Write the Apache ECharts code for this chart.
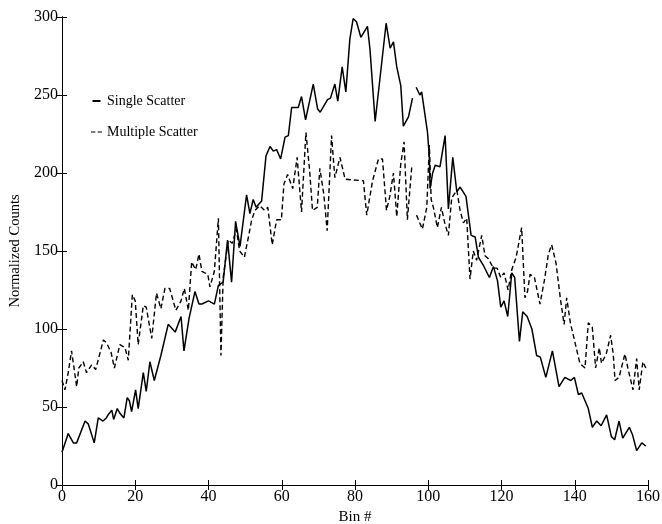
<!DOCTYPE html>
<html>
<head>
<meta charset="utf-8">
<script src="https://cdn.jsdelivr.net/npm/echarts@6/dist/echarts.min.js"></script>
<style>
  html, body { margin: 0; padding: 0; background: #fff; }
  #main { width: 662px; height: 524px; }
</style>
</head>
<body>
<div id="main"></div>
<script>
// single scatter (solid line), bin positions and counts
var singleBins = [0, 1.7, 3.1, 4, 6.3, 7.2, 8.8, 9.9, 11.2, 12.1, 12.6, 13.6, 14.1, 15.1, 15.8, 16.9, 17.8, 18.4, 19, 20.1,
    20.8, 22.2, 23, 24, 25.2, 27, 29, 29.8, 30.9, 32.5, 33.3, 34.7, 36.3, 37.4, 38.2, 40, 41.6, 42.7, 44, 45.2,
    46.3, 47.4, 48.6, 50.4, 51.3, 52.2, 53, 54.5, 55.7, 56.8, 57.7, 58.6, 59.7, 60.9, 61.8, 62.7, 64.5, 65.4, 66.5, 68.6,
    69.8, 70.5, 72.5, 73.3, 74.5, 75.3, 76.5, 77.5, 78.6, 79.5, 80.4, 81.6, 83.4, 84.1, 85.5, 88.5, 89.6, 90.5, 91.4, 92.5,
    93.2, 94.6, 95.7, 96.2, 96.7, 97.7, 98.2, 99.8, 100.3, 100.5, 101.2, 101.9, 103.2, 104.6, 105.5, 106.7, 107.8, 108.7, 110.3, 111.7,
    112.8, 113.7, 115, 116.7, 117.8, 118.9, 119.8, 120.7, 121.7, 122.8, 123.6, 124.9, 125.8, 127, 128.3, 129.6, 130.6, 132.1, 133.9, 135.7,
    137.3, 138.9, 139.9, 141, 141.9, 143.7, 144.8, 146, 147.2, 148.7, 150, 150.9, 152.1, 153.1, 154.9, 155.8, 156.9, 158.3, 159.4];
var singleCounts = [21, 33, 27, 27, 41, 39, 27, 43, 41, 43, 45, 48, 42, 49, 46, 43, 56, 54, 47, 61,
    49, 72, 60, 79, 67, 83, 103, 101, 98, 108, 86, 107, 124, 116, 116, 118, 116, 128, 130, 157,
    130, 169, 153, 186, 174, 183, 178, 182, 211, 217, 214, 215, 209, 223, 224, 242, 242, 249, 234, 257,
    241, 239, 247, 248, 257, 246, 268, 252, 286, 299, 297, 287, 294, 279, 233, 296, 280, 284, 268, 256,
    230, 236, 248, '-', 255, 250, 252, 226, 210, 190, 200, 205, 204, 224, 177, 210, 188, 191, 185, 160,
    159, 146, 141, 133, 140, 131, 114, 118, 108, 136, 133, 92, 111, 108, 100, 83, 82, 69, 86, 63,
    69, 67, 69, 58, 59, 49, 37, 41, 38, 45, 31, 29, 41, 30, 37, 32, 22, 27, 25];

// multiple scatter (dashed line)
var multiBins = [0, 0.8, 1.7, 2.6, 3.1, 4, 4.6, 5.8, 6.7, 8.1, 9.2, 11.3, 12.2, 13.4, 14.3, 15.8, 17.2, 18.1, 19.2, 20,
    20.8, 22.2, 23, 24.5, 25.8, 27, 28.1, 29.4, 31.1, 32.5, 33.4, 34.5, 35.4, 36.5, 37.4, 38.2, 39.8, 40.4, 41.6, 42.7,
    43.4, 44, 45.4, 46.5, 47.6, 48.5, 49.8, 50.9, 51.8, 52.7, 54, 55.3, 56.2, 57.4, 58.6, 59.9, 60.6, 61.6, 63, 64.2,
    65.4, 66.6, 67.6, 68.4, 69.7, 70.4, 71.5, 72.4, 73.6, 74.5, 75.9, 77.3, 82.3, 83.2, 84.8, 86.4, 87.5, 88.6, 89.5, 90.5,
    91.4, 92.5, 93.4, 94.3, 95.5, 96.2, 96.8, 98.4, 99.6, 100.3, 100.8, 101.4, 102.5, 103.6, 104.5, 105.5, 106.4, 107.8, 108.7, 109.6,
    110.5, 111.4, 112.3, 113.2, 114.6, 115.5, 116.4, 117.8, 118.8, 119.8, 120.7, 121.8, 122.8, 124, 125.5, 126.4, 127.1, 127.8, 129, 130.5,
    131.7, 132.8, 133.7, 134.9, 136.1, 137.1, 137.8, 138.8, 140.1, 141.4, 142.8, 143.7, 144.8, 145.7, 146.7, 147.3, 148.6, 149.8, 150.5, 151,
    152.1, 153.7, 154.5, 155.9, 156.9, 157.6, 158.6, 159.4];
var multiCounts = [67, 61, 72, 86, 78, 63, 75, 79, 72, 77, 74, 93, 91, 85, 75, 90, 88, 80, 122, 118,
    90, 115, 114, 94, 123, 113, 126, 126, 112, 118, 126, 112, 143, 138, 148, 137, 135, 127, 137, 171,
    83, 133, 157, 155, 164, 150, 146, 159, 170, 176, 179, 176, 178, 154, 170, 170, 193, 199, 190, 210,
    175, 226, 202, 176, 178, 203, 186, 163, 224, 197, 210, 196, 195, 173, 195, 209, 209, 176, 185, 200,
    172, 206, 220, 170, 204, '-', 173, 164, 178, 218, 183, 178, 165, 178, 168, 160, 184, 189, 176, 168,
    171, 132, 150, 144, 160, 147, 145, 139, 139, 133, 136, 125, 138, 146, 165, 120, 124, 135, 133, 116,
    131, 148, 154, 142, 119, 103, 120, 104, 91, 78, 75, 104, 101, 75, 88, 78, 84, 96, 84, 67,
    69, 84, 75, 61, 81, 61, 79, 75];

var xTicks = { min: 0, max: 160, interval: 20 };
var yTicks = { min: 0, max: 300, interval: 50 };

function pairs(xs, ys) {
    var out = [];
    for (var i = 0; i < xs.length; i++) {
        out.push([xs[i], ys[i]]);
    }
    return out;
}

var font = '"Liberation Serif", "DejaVu Serif", serif';
var axisLine = { show: true, lineStyle: { color: '#000', width: 1 } };
var tickIn = { show: true, inside: true, length: 5, lineStyle: { color: '#000' } };

var chart = echarts.init(document.getElementById('main'));
var option = {
    backgroundColor: '#fff',
    animation: false,
    grid: { left: 62, right: 14, top: 17, bottom: 39, containLabel: false, outerBoundsMode: 'none' },
    legend: {
        orient: 'vertical',
        left: 86,
        top: 89,
        itemGap: 17,
        itemWidth: 11,
        itemHeight: 2,
        textStyle: { fontFamily: font, fontSize: 14, color: '#000' },
        data: [
            { name: 'Single Scatter', icon: 'path://M7,0H11V1H7Z' },
            { name: 'Multiple Scatter', icon: 'path://M0,0H4V1H0Z M6,0H10V1H6Z' }
        ]
    },
    xAxis: [
        {
            type: 'value', min: xTicks.min, max: xTicks.max, interval: xTicks.interval,
            name: 'Bin #', nameLocation: 'middle', nameGap: 21,
            nameTextStyle: { fontFamily: font, fontSize: 15, color: '#000' },
            axisLine: axisLine, axisTick: tickIn,
            axisLabel: { fontFamily: font, fontSize: 16, color: '#000', margin: 4 },
            splitLine: { show: false }
        },
        {
            type: 'value', position: 'top', min: xTicks.min, max: xTicks.max, interval: xTicks.interval,
            axisLine: axisLine, axisTick: tickIn, axisLabel: { show: false }, splitLine: { show: false }
        }
    ],
    yAxis: [
        {
            type: 'value', min: yTicks.min, max: yTicks.max, interval: yTicks.interval,
            name: 'Normalized Counts', nameLocation: 'middle', nameGap: 37,
            nameTextStyle: { fontFamily: font, fontSize: 14.5, color: '#000' },
            axisLine: axisLine, axisTick: tickIn,
            axisLabel: { fontFamily: font, fontSize: 16, color: '#000', margin: 4 },
            splitLine: { show: false }
        },
        {
            type: 'value', position: 'right', min: yTicks.min, max: yTicks.max, interval: yTicks.interval,
            axisLine: axisLine, axisTick: tickIn, axisLabel: { show: false }, splitLine: { show: false }
        }
    ],
    series: [
        {
            name: 'Single Scatter',
            type: 'line',
            data: pairs(singleBins, singleCounts),
            showSymbol: false,
            symbol: 'none',
            connectNulls: false,
            lineStyle: { color: '#000', width: 1.5, type: 'solid' },
            itemStyle: { color: '#000' }
        },
        {
            name: 'Multiple Scatter',
            type: 'line',
            data: pairs(multiBins, multiCounts),
            showSymbol: false,
            symbol: 'none',
            connectNulls: false,
            lineStyle: { color: '#000', width: 1.4, type: [5, 3] },
            itemStyle: { color: '#000' }
        }
    ]
};
chart.setOption(option);
</script>
</body>
</html>
